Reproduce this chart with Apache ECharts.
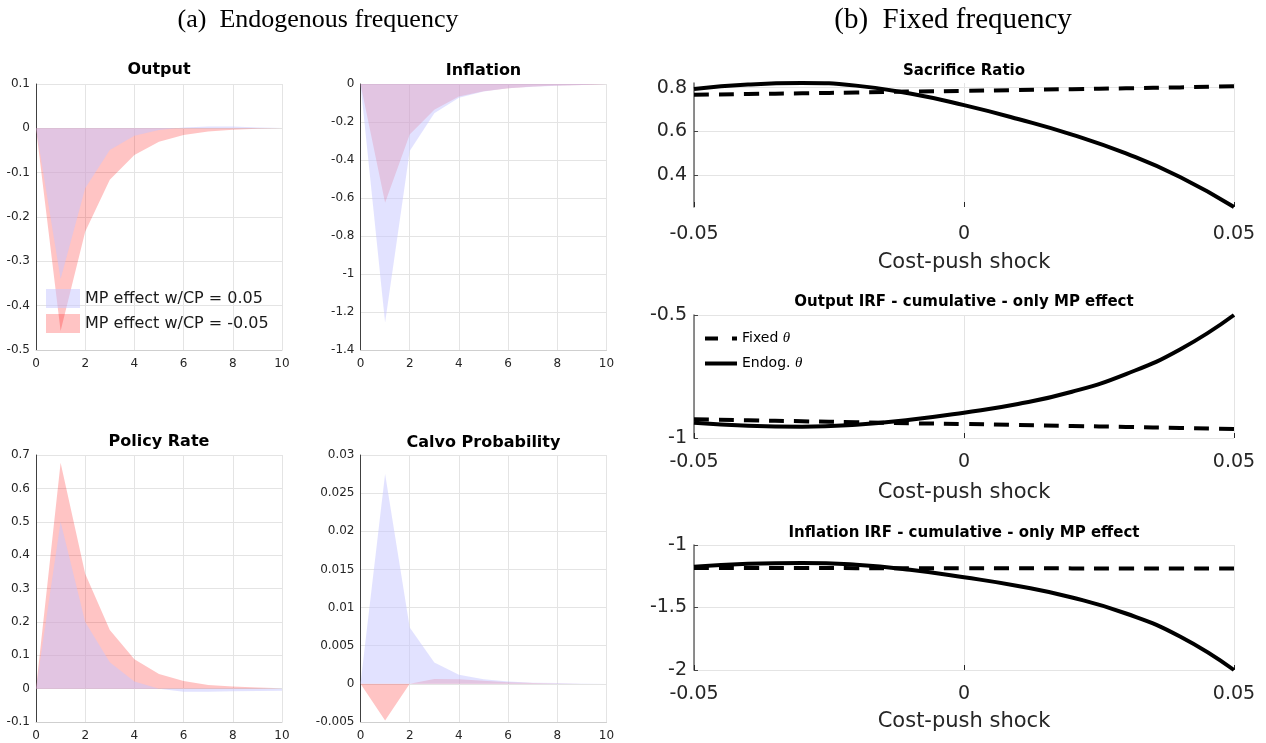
<!DOCTYPE html>
<html><head><meta charset="utf-8">
<script src="https://cdn.jsdelivr.net/npm/echarts@6/dist/echarts.min.js"></script>
<style>html,body{margin:0;padding:0;background:#fff}#c{width:1266px;height:743px}</style>
</head><body><div id="c"></div>
<script>
// ---------- data ----------
const horizon = [0, 1, 2, 3, 4, 5, 6, 7, 8, 9, 10];
// MP effect w/CP = 0.05 (blue) and w/CP = -0.05 (red)
const outputPos    = [0, -0.340, -0.135, -0.049, -0.017, -0.004, 0.002, 0.004, 0.004, 0.002, 0.001];
const outputNeg    = [0, -0.457, -0.233, -0.116, -0.060, -0.030, -0.015, -0.007, -0.003, -0.001, 0];
const inflationPos = [0, -1.255, -0.353, -0.154, -0.073, -0.040, -0.023, -0.014, -0.009, -0.005, -0.003];
const inflationNeg = [0, -0.625, -0.266, -0.135, -0.066, -0.038, -0.022, -0.013, -0.008, -0.005, -0.003];
const ratePos      = [0, 0.500, 0.200, 0.079, 0.021, 0.000, -0.009, -0.009, -0.008, -0.007, -0.006];
const rateNeg      = [0, 0.677, 0.344, 0.176, 0.088, 0.044, 0.023, 0.011, 0.006, 0.003, 0.001];
const calvoPos     = [0, 0.0275, 0.0074, 0.0028, 0.0012, 0.0006, 0.0003, 0.00015, 0.0001, 0.00005, 0];
const calvoNeg     = [0, -0.0048, 0, 0.00065, 0.0006, 0.0004, 0.0002, 0.0001, 0.00005, 0, 0];

// cost-push shock grid (panel b)
const shock = [-0.05, -0.04, -0.03, -0.02, -0.01, 0, 0.01, 0.02, 0.03, 0.04, 0.05];
const sacrificeFixed = [0.767, 0.771, 0.774, 0.778, 0.782, 0.785, 0.789, 0.793, 0.797, 0.801, 0.806];
const sacrificeEndog = [0.794, 0.814, 0.821, 0.809, 0.773, 0.720, 0.657, 0.586, 0.500, 0.393, 0.256];
const outCumFixed    = [-0.924, -0.928, -0.932, -0.936, -0.940, -0.943, -0.947, -0.951, -0.955, -0.959, -0.963];
const outCumEndog    = [-0.938, -0.950, -0.954, -0.946, -0.926, -0.897, -0.862, -0.812, -0.740, -0.640, -0.500];
const infCumFixed    = [-1.183, -1.184, -1.184, -1.185, -1.185, -1.186, -1.186, -1.187, -1.187, -1.188, -1.188];
const infCumEndog    = [-1.173, -1.150, -1.143, -1.158, -1.198, -1.258, -1.328, -1.420, -1.548, -1.732, -2.000];

const sacrificeTicks = [0.4, 0.6, 0.8];
const legendLeft = ['MP effect w/CP = 0.05', 'MP effect w/CP = -0.05'];
const legendRight = ['Fixed θ', 'Endog. θ'];

// ---------- styles / layout ----------
const SANS = '"DejaVu Sans", "Noto Sans", sans-serif';
const TICK = '#262626';
const GRIDC = '#e4e4e4';
const RED = '#ff0000', RED_OP = 0.23;
const BLUE = '#c6c6ff', BLUE_OP = 0.5;

const leftPanels = [
  {title: 'Output', pos: outputPos, neg: outputNeg, min: -0.5, max: 0.1, interval: 0.1,
   grid: {left: 36, top: 84, width: 246, height: 266}, tx: 159, ty: 70},
  {title: 'Inflation', pos: inflationPos, neg: inflationNeg, min: -1.4, max: 0, interval: 0.2,
   grid: {left: 360.5, top: 84, width: 246, height: 266}, tx: 483.5, ty: 71},
  {title: 'Policy Rate', pos: ratePos, neg: rateNeg, min: -0.1, max: 0.7, interval: 0.1,
   grid: {left: 36, top: 455, width: 246, height: 267}, tx: 159, ty: 442},
  {title: 'Calvo Probability', pos: calvoPos, neg: calvoNeg, min: -0.005, max: 0.03, interval: 0.005,
   grid: {left: 360.5, top: 455, width: 246, height: 267}, tx: 483.5, ty: 443}
];

const rightPanels = [
  {title: 'Sacrifice Ratio', fixed: sacrificeFixed, endog: sacrificeEndog, min: 0.256, max: 0.821,
   custom: sacrificeTicks, grid: {left: 694, top: 83, width: 540, height: 124}, ty: 71, lx: 263, xm: 18},
  {title: 'Output IRF - cumulative - only MP effect', fixed: outCumFixed, endog: outCumEndog, min: -1, max: -0.5,
   interval: 0.5, grid: {left: 694, top: 315, width: 540, height: 123}, ty: 302, lx: 493, xm: 15},
  {title: 'Inflation IRF - cumulative - only MP effect', fixed: infCumFixed, endog: infCumEndog, min: -2, max: -1,
   interval: 0.5, grid: {left: 694, top: 545, width: 540, height: 125}, ty: 533, lx: 722, xm: 15}
];

const pairs = (xs, ys) => xs.map((x, i) => [x, ys[i]]);

const grid = [], xAxis = [], yAxis = [], series = [], graphic = [];

leftPanels.forEach((p, i) => {
  grid.push(p.grid);
  xAxis.push({
    type: 'value', gridIndex: i, min: 0, max: 10, interval: 2,
    axisLine: {show: true, onZero: false, lineStyle: {color: '#cfcfcf', width: 1}},
    axisTick: {show: false},
    axisLabel: {fontSize: 12, color: TICK, margin: 8, fontFamily: SANS},
    splitLine: {show: true, lineStyle: {color: GRIDC, width: 1}}
  });
  yAxis.push({
    type: 'value', gridIndex: i, min: p.min, max: p.max, interval: p.interval,
    axisLine: {show: true, onZero: false, lineStyle: {color: '#404040', width: 1}},
    axisTick: {show: false},
    axisLabel: {fontSize: 12, color: TICK, margin: 6, fontFamily: SANS},
    splitLine: {show: true, lineStyle: {color: GRIDC, width: 1}}
  });
  series.push({
    type: 'line', name: legendLeft[1], xAxisIndex: i, yAxisIndex: i,
    data: pairs(horizon, p.neg), symbol: 'none', silent: true,
    lineStyle: {width: 0}, itemStyle: {color: RED, opacity: RED_OP},
    areaStyle: {color: RED, opacity: RED_OP, origin: 0}
  });
  series.push({
    type: 'line', name: legendLeft[0], xAxisIndex: i, yAxisIndex: i,
    data: pairs(horizon, p.pos), symbol: 'none', silent: true,
    lineStyle: {width: 0}, itemStyle: {color: BLUE, opacity: BLUE_OP},
    areaStyle: {color: BLUE, opacity: BLUE_OP, origin: 0}
  });
  graphic.push({type: 'text', x: p.tx, y: p.ty, silent: true,
    style: {text: p.title, fontSize: 16, fontWeight: 'bold', fontFamily: SANS, fill: '#000',
            align: 'center', verticalAlign: 'middle'}});
});

rightPanels.forEach((p, k) => {
  const i = k + 4;
  grid.push(p.grid);
  xAxis.push({
    type: 'value', gridIndex: i, min: -0.05, max: 0.05, interval: 0.05,
    axisLine: {show: false, onZero: false},
    axisTick: {show: true, inside: true, length: 5, lineStyle: {color: TICK, width: 1}},
    axisLabel: {fontSize: 19, color: TICK, margin: p.xm, fontFamily: SANS},
    splitLine: {show: true, lineStyle: {color: GRIDC, width: 1}}
  });
  const ya = {
    type: 'value', gridIndex: i, min: p.min, max: p.max,
    axisLine: {show: true, onZero: false, lineStyle: {color: '#6a6a6a', width: 1.5}},
    axisTick: {show: true, inside: true, length: 4, lineStyle: {color: '#444', width: 1}},
    axisLabel: {fontSize: 19, color: TICK, margin: 7, fontFamily: SANS},
    splitLine: {show: true, lineStyle: {color: GRIDC, width: 1}}
  };
  if (p.custom) {
    ya.axisTick.customValues = p.custom;
    ya.axisLabel.customValues = p.custom;
  } else {
    ya.interval = p.interval;
  }
  yAxis.push(ya);
  series.push({
    type: 'line', name: legendRight[0], xAxisIndex: i, yAxisIndex: i,
    data: pairs(shock, p.fixed), symbol: 'none', silent: true, smooth: true,
    lineStyle: {color: '#000', width: 4, type: [15, 10]}, itemStyle: {color: '#000'}
  });
  series.push({
    type: 'line', name: legendRight[1], xAxisIndex: i, yAxisIndex: i,
    data: pairs(shock, p.endog), symbol: 'none', silent: true, smooth: true,
    lineStyle: {color: '#000', width: 4}, itemStyle: {color: '#000'}
  });
  graphic.push({type: 'text', x: 964, y: p.ty, silent: true,
    style: {text: p.title, fontSize: 15, fontWeight: 'bold', fontFamily: SANS, fill: '#000',
            align: 'center', verticalAlign: 'middle'}});
  graphic.push({type: 'text', x: 964, y: p.lx, silent: true,
    style: {text: 'Cost-push shock', fontSize: 21, fontFamily: SANS, fill: TICK,
            align: 'center', verticalAlign: 'middle'}});
});

graphic.push({type: 'text', x: 318, y: 20, silent: true,
  style: {text: '(a)  Endogenous frequency', fontSize: 26, fontFamily: '"Liberation Serif", serif',
          fill: '#000', align: 'center', verticalAlign: 'middle'}});
graphic.push({type: 'text', x: 953, y: 20, silent: true,
  style: {text: '(b)  Fixed frequency', fontSize: 29, fontFamily: '"Liberation Serif", serif',
          fill: '#000', align: 'center', verticalAlign: 'middle'}});

const thetaFmt = name => name.replace('θ', '{t|θ}');
const rightLegendText = {fontSize: 14, color: '#000', fontFamily: SANS,
  rich: {t: {fontSize: 15, fontStyle: 'italic', fontFamily: '"Liberation Serif", serif', color: '#000'}}};

const option = {
  animation: false,
  backgroundColor: '#fff',
  grid, xAxis, yAxis, series, graphic,
  legend: [
    {data: [{name: legendLeft[0], icon: 'rect'}, {name: legendLeft[1], icon: 'rect'}],
     orient: 'vertical', left: 46, top: 289, padding: 0, itemWidth: 34, itemHeight: 19, itemGap: 6,
     selectedMode: false, textStyle: {fontSize: 16, color: '#1a1a1a', fontFamily: SANS}},
    {data: [{name: legendRight[0], icon: 'path://M0 0H13V4H0Z M27 0H32V4H27Z'}],
     left: 705, top: 331, padding: 0, itemWidth: 32, itemHeight: 4, selectedMode: false,
     itemStyle: {color: '#000'}, formatter: thetaFmt, textStyle: rightLegendText},
    {data: [{name: legendRight[1], icon: 'rect'}],
     left: 705, top: 356, padding: 0, itemWidth: 32, itemHeight: 4, selectedMode: false,
     itemStyle: {color: '#000'}, formatter: thetaFmt, textStyle: rightLegendText}
  ]
};

const chart = echarts.init(document.getElementById('c'), null, {renderer: 'canvas'});
chart.setOption(option);
</script>
</body></html>
